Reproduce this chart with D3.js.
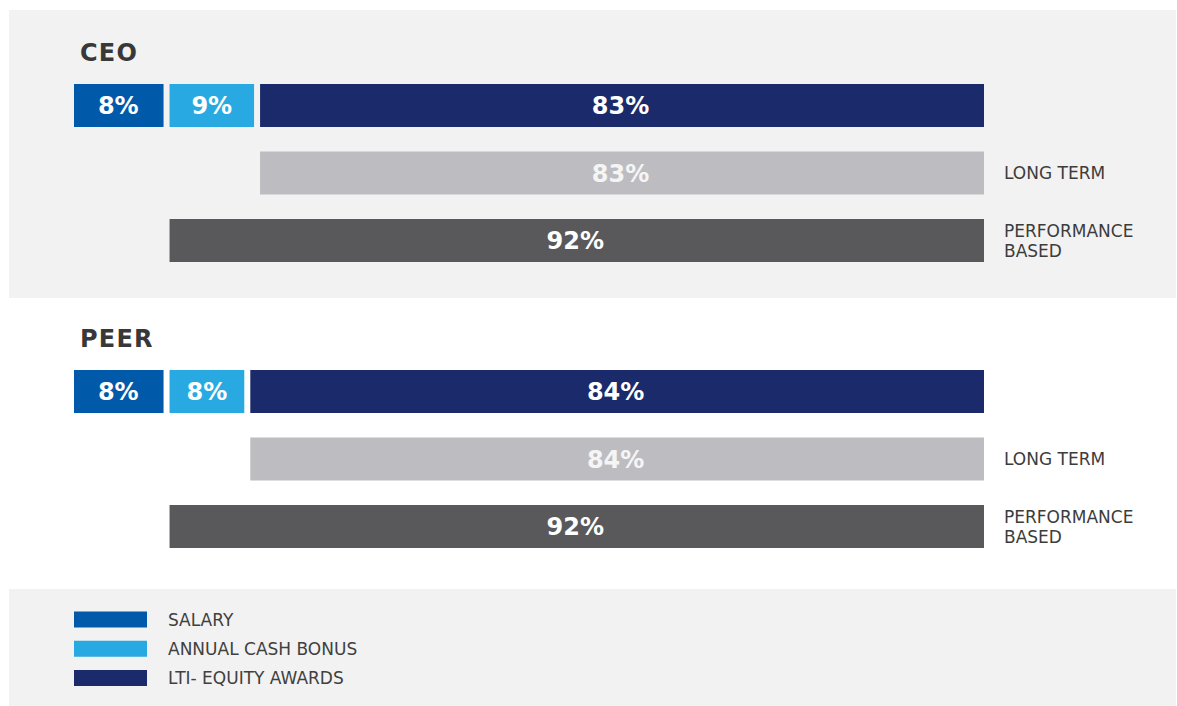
<!DOCTYPE html>
<html>
<head>
<meta charset="utf-8">
<script src="https://cdn.jsdelivr.net/npm/d3@7"></script>
<style>
  html, body { margin: 0; padding: 0; background: #ffffff; }
  svg { display: block; }
  text { font-family: "DejaVu Sans", Verdana, sans-serif; }
</style>
</head>
<body>
<svg id="chart" width="1177" height="706"></svg>
<script>
// ---- data ----
const groups = ["CEO", "PEER"];
const components = ["SALARY", "ANNUAL CASH BONUS", "LTI- EQUITY AWARDS"];
const ceoMix = [8, 9, 83];
const peerMix = [8, 8, 84];
const ceoLongTerm = 83;
const peerLongTerm = 84;
const ceoPerformance = 92;
const peerPerformance = 92;
const rowLabels = ["", "LONG TERM", "PERFORMANCE|BASED"];

// ---- styles ----
const compColors = ["#0059a9", "#29a9e1", "#1b2a6a"];
const longColor = "#bdbdc1";
const perfColor = "#59595b";
const panelBg = "#f2f2f2";

const svg = d3.select("#chart");
const W = 1177, H = 706;
const gap = 6;

// x scale: share (%) -> horizontal position
const x = d3.scalePow().exponent(0.905).domain([0, 100]).range([74, 984]);

// group offsets (vertical)
const groupY = d3.scalePoint().domain(groups).range([0, 286]);
// rows within a group
const rowY = d3.scaleBand().domain([0, 1, 2]).range([84, 262]).paddingInner(0.363);

// backgrounds
svg.append("rect").attr("x", 9).attr("y", 10).attr("width", W - 10).attr("height", 288).attr("fill", panelBg);
svg.append("rect").attr("x", 9).attr("y", 589).attr("width", W - 10).attr("height", H - 589).attr("fill", panelBg);

const groupData = [
  { name: "CEO", mix: ceoMix, longTerm: ceoLongTerm, perf: ceoPerformance },
  { name: "PEER", mix: peerMix, longTerm: peerLongTerm, perf: peerPerformance }
];

groupData.forEach(gd => {
  const g = svg.append("g").attr("transform", `translate(0,${groupY(gd.name)})`);

  g.append("text")
    .attr("x", 80).attr("y", 61)
    .attr("font-size", 24).attr("font-weight", "bold")
    .attr("letter-spacing", 1.2)
    .attr("fill", "#383838")
    .text(gd.name);

  // stacked mix row
  let cum = 0;
  const segs = gd.mix.map((v, i) => {
    const s = { v, i, start: cum, end: cum + v };
    cum += v;
    return s;
  });
  const last = segs.length - 1;
  const bw = rowY.bandwidth();
  const y0 = rowY(0);

  const segG = g.selectAll(".seg").data(segs).enter().append("g");
  segG.append("rect")
    .attr("x", d => x(d.start) + (d.i > 0 ? gap / 2 : 0))
    .attr("y", y0)
    .attr("width", d => (x(d.end) - (d.i < last ? gap / 2 : 0)) - (x(d.start) + (d.i > 0 ? gap / 2 : 0)))
    .attr("height", bw)
    .attr("fill", d => compColors[d.i]);
  segG.append("text")
    .attr("x", d => (x(d.start) + x(d.end)) / 2 + (d.i === 0 ? -2 : 0))
    .attr("y", y0 + bw / 2)
    .attr("dy", "0.36em")
    .attr("text-anchor", "middle")
    .attr("font-size", 24).attr("font-weight", "bold")
    .attr("fill", "#ffffff")
    .text(d => d.v + "%");

  // long term row (= LTI share)
  const ltStart = 100 - gd.longTerm;
  const y1 = rowY(1);
  g.append("rect")
    .attr("x", x(ltStart) + gap / 2).attr("y", y1)
    .attr("width", x(100) - x(ltStart) - gap / 2).attr("height", bw)
    .attr("fill", longColor);
  g.append("text")
    .attr("x", (x(ltStart) + x(100)) / 2).attr("y", y1 + bw / 2).attr("dy", "0.36em")
    .attr("text-anchor", "middle").attr("font-size", 24).attr("font-weight", "bold")
    .attr("fill", "#f5f5f5")
    .text(gd.longTerm + "%");

  // performance based row
  const pStart = 100 - gd.perf;
  const y2 = rowY(2);
  g.append("rect")
    .attr("x", x(pStart) + gap / 2).attr("y", y2)
    .attr("width", x(100) - x(pStart) - gap / 2).attr("height", bw)
    .attr("fill", perfColor);
  g.append("text")
    .attr("x", (x(pStart) + x(100)) / 2).attr("y", y2 + bw / 2).attr("dy", "0.36em")
    .attr("text-anchor", "middle").attr("font-size", 24).attr("font-weight", "bold")
    .attr("fill", "#ffffff")
    .text(gd.perf + "%");

  // right-side row labels
  rowLabels.forEach((lab, ri) => {
    if (!lab) return;
    const lines = lab.split("|");
    const cy = rowY(ri) + bw / 2;
    const t = g.append("text")
      .attr("x", x(100) + 20)
      .attr("font-size", 17)
      .attr("fill", "#3c3c3c");
    lines.forEach((ln, li) => {
      t.append("tspan")
        .attr("x", x(100) + 20)
        .attr("y", cy + (li - (lines.length - 1) / 2) * 20)
        .attr("dy", "0.36em")
        .text(ln);
    });
  });
});

// legend
const legY = d3.scalePoint().domain(components).range([619.5, 678]);
const leg = svg.append("g");
components.forEach((c, i) => {
  leg.append("rect")
    .attr("x", 74).attr("y", legY(c) - 8).attr("width", 73).attr("height", 16)
    .attr("fill", compColors[i]);
  leg.append("text")
    .attr("x", 168).attr("y", legY(c)).attr("dy", "0.36em")
    .attr("font-size", 17).attr("fill", "#404040")
    .text(c);
});
</script>
</body>
</html>
